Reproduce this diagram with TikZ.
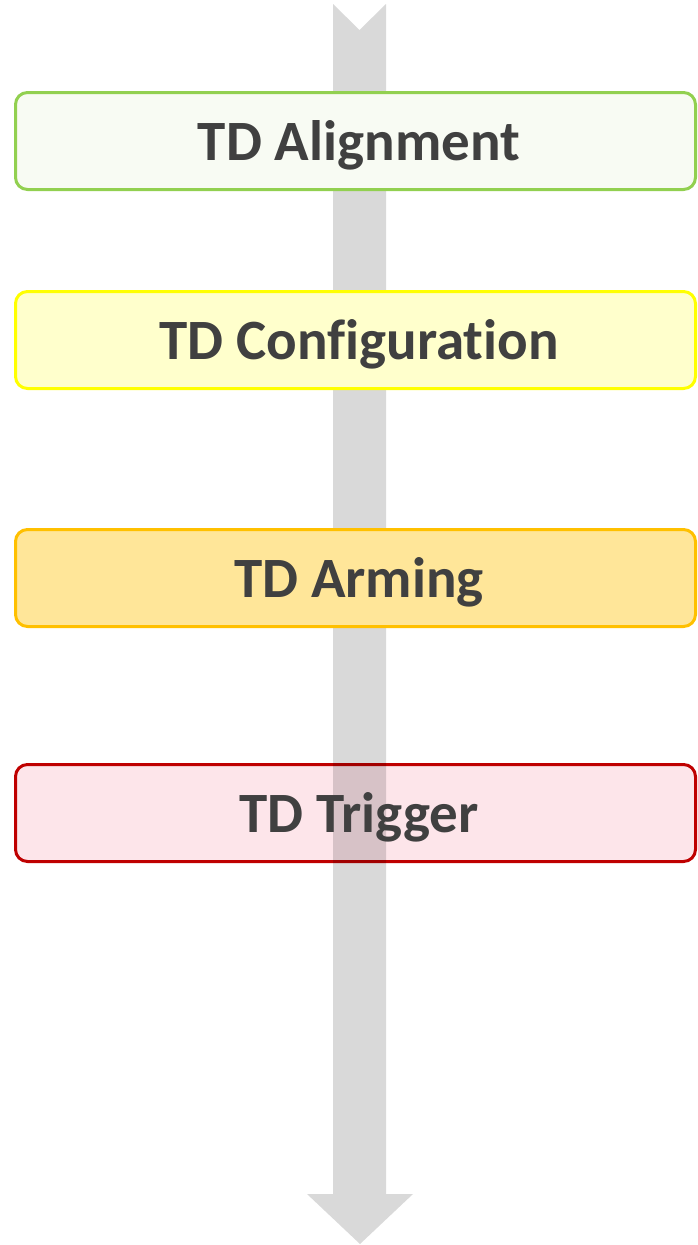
\documentclass[tikz,border=0pt]{standalone}
\usepackage{fontspec}
\setmainfont[Ligatures=NoCommon]{Carlito}
\usepackage{tikz}
\definecolor{txtgray}{HTML}{404040}
\definecolor{flowgray}{HTML}{D9D9D9}
\definecolor{alignline}{HTML}{92D050}
\definecolor{alignfill}{HTML}{F8FBF3}
\definecolor{configline}{HTML}{FFFF00}
\definecolor{configfill}{HTML}{FFFFCC}
\definecolor{armline}{HTML}{FFC000}
\definecolor{armfill}{HTML}{FFE699}
\definecolor{trigline}{HTML}{C00000}
\definecolor{trigfill}{HTML}{FDE5EA}

\begin{document}
\begin{tikzpicture}[x=1pt, y=-1pt,
		stage/.style={draw, line width=3pt, rounded corners=12pt, inner sep=0pt,
			minimum width=680pt, minimum height=97pt},
		stagetext/.style={text=txtgray, xshift=3.5pt, yshift=-4pt,
			font=\fontsize{57}{60}\selectfont\bfseries}]
		\useasboundingbox (0,0) rectangle (698,1245);
		% flow arrow behind the stages
		\fill[flowgray] (333,4) -- (359.5,30) -- (386,4) -- (386,1194) -- (413,1194)
			-- (360,1244) -- (307,1194) -- (333,1194) -- cycle;
		% stages
		\node[stage, draw=alignline, fill=alignfill,
			label={[stagetext]center:TD Alignment}] (align) at (355.5,141) {};
		\node[stage, draw=configline, fill=configfill,
			label={[stagetext]center:TD Configuration}] (config) at (355.5,340) {};
		\node[stage, draw=armline, fill=armfill,
			label={[stagetext]center:TD Arming}] (arming) at (355.5,578) {};
		\node[stage, draw=trigline, fill=trigfill, blend mode=multiply,
			label={[stagetext]center:TD Trigger}] (trigger) at (355.5,813) {};
	\end{tikzpicture}
\end{document}
